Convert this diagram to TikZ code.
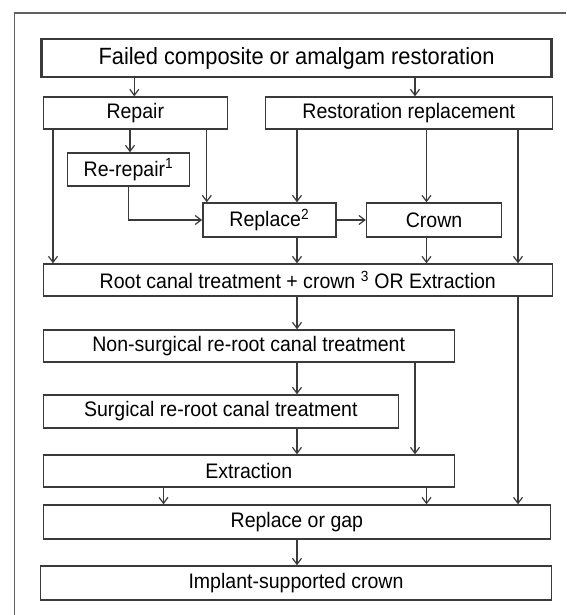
\documentclass[tikz,border=0pt]{standalone}
\usepackage{fontspec}
\setmainfont{Liberation Sans}
\newfontfamily\boxfont[FakeStretch=0.93]{Liberation Sans}
\usetikzlibrary{arrows.meta}
\definecolor{ln}{HTML}{3A3A3A}
\begin{document}
\begin{tikzpicture}[x=1pt,y=-1pt,
  box/.style={draw=ln,line width=1.4pt,rectangle,inner sep=0pt,fill=white,
    font=\boxfont\fontsize{21}{23}\selectfont,text=black},
  topbox/.style={box,line width=2.6pt,font=\boxfont\fontsize{23.5}{25}\selectfont},
  arr/.style={draw=ln,line width=1.2pt,-{Straight Barb[length=6pt,width=9pt,line width=1.2pt]}}]
\useasboundingbox (0,0) rectangle (566,615);
% outer frame (open at right and bottom)
\draw[draw=gray!75!black,line width=1.3pt] (14.4,615) -- (14.4,13) -- (566,13);
% nodes
\node[topbox,minimum width=510pt,minimum height=38pt] (title) at (296.5,58) {Failed composite or amalgam restoration};
\node[box,minimum width=184pt,minimum height=32pt] (repair) at (135.3,113) {Repair};
\node[box,minimum width=287pt,minimum height=32pt] (restrep) at (408.8,113) {Restoration replacement};
\node[box,minimum width=122pt,minimum height=33pt] (rerepair) at (128.5,169.5) {Re-repair\textsuperscript{1}};
\node[box,minimum width=133pt,minimum height=34pt] (replace) at (269.3,220) {Replace\textsuperscript{2}};
\node[box,minimum width=135pt,minimum height=34pt] (crown) at (434.1,220) {Crown};
\node[box,minimum width=509pt,minimum height=32pt] (rct) at (297.8,280) {Root canal treatment + crown \textsuperscript{3} OR Extraction};
\node[box,minimum width=411pt,minimum height=32pt] (nonsurg) at (248.7,346) {Non-surgical re-root canal treatment};
\node[box,minimum width=355pt,minimum height=33pt] (surg) at (220.8,411.5) {Surgical re-root canal treatment};
\node[box,minimum width=411pt,minimum height=32pt] (extr) at (248.7,471) {Extraction};
\node[box,minimum width=507pt,minimum height=34pt] (gap) at (296.9,522) {Replace or gap};
\node[box,minimum width=511pt,minimum height=34pt] (implant) at (296,583) {Implant-supported crown};
% column coordinates
\coordinate (xA) at (53,0);
\coordinate (xB) at (130,0);
\coordinate (xC) at (206.8,0);
\coordinate (xD) at (297,0);
\coordinate (xE) at (426.5,0);
\coordinate (xF) at (518,0);
\coordinate (xG) at (415,0);
\coordinate (xH) at (163.5,0);
\coordinate (xI) at (134.3,0);
% connectors
\draw[arr] (title.south -| xI) -- (repair.north -| xI);
\draw[arr] (title.south -| xG) -- (restrep.north -| xG);
\draw[arr] (repair.south -| xB) -- (rerepair.north -| xB);
\draw[arr] (repair.south -| xA) -- (rct.north -| xA);
\draw[arr] (repair.south -| xC) -- (replace.north -| xC);
\draw[arr] (rerepair.south) |- (replace.west);
\draw[arr] (restrep.south -| xD) -- (replace.north -| xD);
\draw[arr] (restrep.south -| xE) -- (crown.north -| xE);
\draw[arr] (restrep.south -| xF) -- (rct.north -| xF);
\draw[arr] (replace.east) -- (crown.west);
\draw[arr] (replace.south -| xD) -- (rct.north -| xD);
\draw[arr] (crown.south -| xE) -- (rct.north -| xE);
\draw[arr] (rct.south -| xD) -- (nonsurg.north -| xD);
\draw[arr] (rct.south -| xF) -- (gap.north -| xF);
\draw[arr] (nonsurg.south -| xD) -- (surg.north -| xD);
\draw[arr] (nonsurg.south -| xG) -- (extr.north -| xG);
\draw[arr] (surg.south -| xD) -- (extr.north -| xD);
\draw[arr] (extr.south -| xH) -- (gap.north -| xH);
\draw[arr] (extr.south -| xE) -- (gap.north -| xE);
\draw[arr] (gap.south -| xD) -- (implant.north -| xD);
\end{tikzpicture}
\end{document}
